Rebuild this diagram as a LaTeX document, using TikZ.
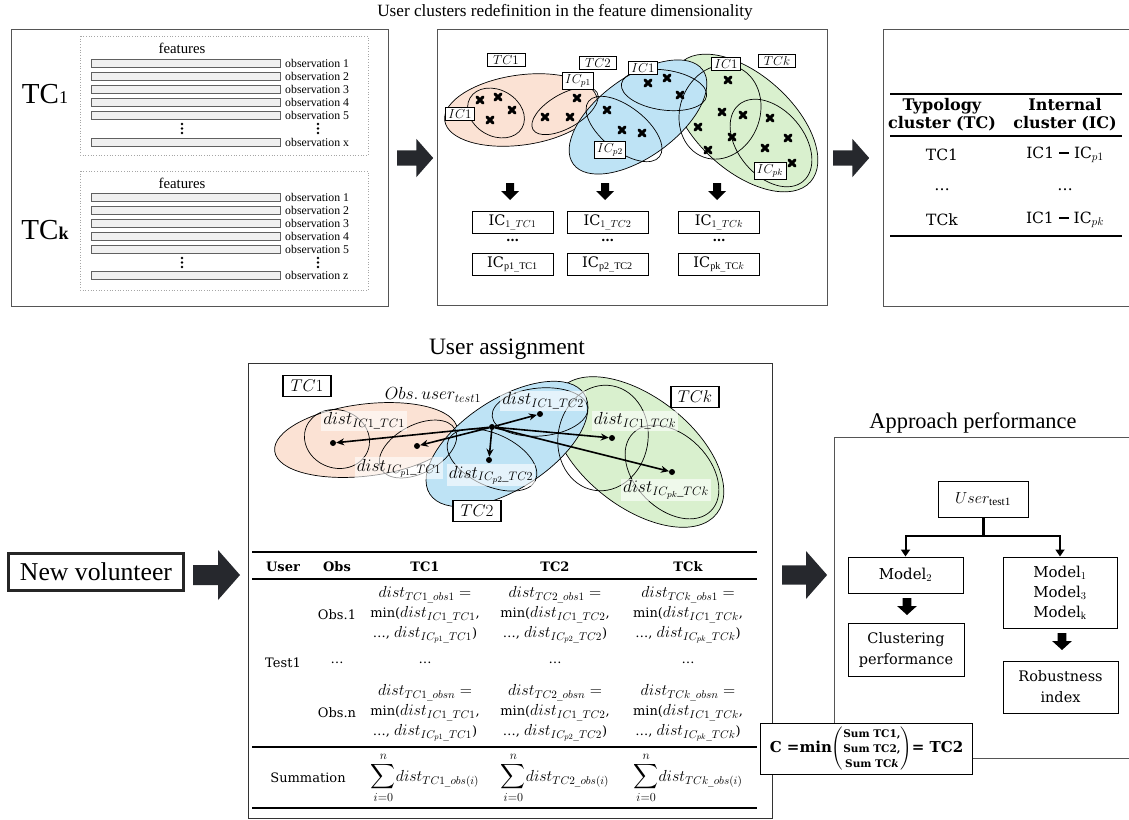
\RequirePackage{fix-cm}
\documentclass[tikz,border=0pt]{standalone}
\usepackage{amsmath}
\usepackage{exscale}
\usepackage{fontspec}
\setmainfont{Liberation Serif}
\newfontfamily\cam{DejaVu Serif}
\usetikzlibrary{arrows.meta}
\definecolor{orfill}{RGB}{251,226,212}
\definecolor{blfill}{RGB}{190,227,245}
\definecolor{grfill}{RGB}{217,240,206}
\definecolor{arrowdark}{RGB}{38,40,45}
\definecolor{panelgray}{RGB}{85,85,85}
\newcommand\fs[2]{\fontsize{#1}{#2}\selectfont}
\newcommand\myell[6]{\draw[#6, rotate around={#5:(#1,#2)}] (#1,#2) ellipse [x radius=#3pt, y radius=#4pt];}
\newcommand\dashbar{\raisebox{4pt}{\rule{10pt}{2pt}}}
\newcommand\M[1]{{\fs{16}{20}$#1$}}
\newcommand\cellTC[3]{\M{dist_{#1\_obs#2}=}\\min(\M{dist_{IC1\_#1}},\\\ldots, \M{dist_{IC_{#3}\_#1}})}
\newcommand\bigsum{{\fs{17.5}{20}$\displaystyle\sum_{i=0}^{n}$}}
\tikzset{
  panel/.style={draw=panelgray, line width=0.9pt},
  dotbox/.style={draw=gray!70, dotted, line width=0.7pt},
  bar/.style={draw=gray!75!black, fill=gray!12, line width=0.6pt},
  obs/.style={font=\fs{11.8}{11.8}, inner sep=0pt, anchor=west},
  lbl/.style={draw, line width=0.9pt, fill=white, inner xsep=3pt, inner ysep=2pt, font=\fs{13}{13}},
  lblb/.style={draw, line width=1.1pt, fill=white, inner xsep=3pt, inner ysep=2pt, minimum width=48pt, minimum height=21pt, font=\fs{17}{17}},
  icbox/.style={draw, line width=0.9pt, minimum width=81pt, minimum height=21pt, font=\cam\fs{14.5}{14.5}},
  dlbl/.style={fill=white, fill opacity=0.6, text opacity=1, inner xsep=2pt, inner ysep=2pt, font=\fs{17.5}{17.5}},
  hdr/.style={font=\cam\bfseries\fs{16}{18}, align=center},
  cell/.style={font=\cam\fs{15.5}{20}, align=center},
  tcell/.style={font=\cam\fs{13}{20}, align=center, inner sep=0pt},
  thdr/.style={font=\cam\bfseries\fs{13}{13}},
  rbox/.style={draw, line width=1pt, fill=white, font=\cam\fs{15}{20}, align=center},
  dot/.style={circle, fill=black, inner sep=0pt, minimum size=6pt},
  distarrow/.style={line width=1.6pt, -{Stealth[length=8pt,width=7pt]}},
  rule/.style={line width=1.2pt},
  barrow/.pic={\fill[arrowdark] (0,-10) -- (25,-10) -- (25,-25) -- (47,0) -- (25,25) -- (25,10) -- (0,10) -- cycle;},
  darrow/.pic={\fill[black] (-4,0) -- (4,0) -- (4,8) -- (9,8) -- (0,17) -- (-9,8) -- (-4,8) -- cycle;},
  xm/.pic={\draw[line width=3.1pt, line cap=round] (-3,-3) -- (3,3) (-3,3) -- (3,-3);},
}
\begin{document}
\begin{tikzpicture}[x=1pt,y=-1pt]
\useasboundingbox (0,0) rectangle (1129,819);
\fill[white] (0,0) rectangle (1129,819);

% ---------- titles
\node (title1) at (565,12) {\fs{17.2}{17.2}User clusters redefinition in the feature dimensionality};
\node (title2) at (507,349) {\fs{23.5}{23.5}User assignment};
\node (title3) at (973,423) {\fs{22.4}{22.4}Approach performance};

% ---------- panel 1
\draw[panel] (11,29) rectangle (388,306);
\draw[dotbox] (80,36) rectangle (368,155);
\draw[dotbox] (80,171) rectangle (368,290);
\node (feat1) at (182,48) {\fs{14.8}{14.8}features};
\node (feat2) at (182,183) {\fs{14.8}{14.8}features};
\foreach \y/\t [count=\i] in {63/1,76/2,89/3,102/4,115/5,142/x} {
  \draw[bar] (91,\y-4) rectangle (280,\y+4);
  \node[obs] (oa\i) at (285,\y) {observation \t};
}
\foreach \y/\t [count=\i] in {197/1,210/2,223/3,236/4,249/5,275/z} {
  \draw[bar] (91,\y-4) rectangle (280,\y+4);
  \node[obs] (ob\i) at (285,\y) {observation \t};
}
\foreach \x in {182,318} {
  \foreach \y in {124,128.5,133} { \fill (\x,\y) circle (1.3pt); }
  \foreach \y in {258,262.5,267} { \fill (\x,\y) circle (1.3pt); }
}
\node (tc1big) at (45,94) {\fs{29}{29}TC{\fs{18}{18}1}};
\node (tckbig) at (45,230) {\fs{29}{29}TC{\fs{18}{18}\bfseries k}};

\pic[scale=0.77] at (397,158) {barrow};

% ---------- panel 2
\draw[panel] (437,29) rectangle (827,305);
\myell{521}{110}{77}{35}{8}{fill=orfill, draw=black, line width=0.7pt}
\myell{745}{123}{88}{48}{-42}{fill=grfill, draw=black, line width=0.7pt}
\myell{638}{117}{80}{40}{36}{fill=blfill, draw=black, line width=0.7pt}
\myell{496}{113}{30}{23}{-30}{draw=black, line width=0.7pt}
\myell{565}{111}{37}{17}{30}{draw=black, line width=0.7pt}
\myell{664}{90}{43}{20}{-8}{draw=black, line width=0.7pt}
\myell{624}{129}{45}{22}{-38}{draw=black, line width=0.7pt}
\myell{720}{112}{40}{48}{-20}{draw=black, line width=0.7pt}
\myell{771}{143}{50}{33}{-50}{draw=black, line width=0.7pt}
\foreach \p in {(480,100),(498,97),(512,110),(490,120),(545,117),(570,117),(577,98),
  (648,83),(667,78),(680,95),(607,110),(622,130),(642,133),
  (728,80),(722,112),(698,127),(732,137),(708,150),(743,115),(770,118),(788,138),(765,148),(792,163)}
  { \pic at \p {xm}; }
\node[lbl, minimum width=38pt] (ltc1) at (506,60) {$TC1$};
\node[lbl] (lic1a) at (460,114) {$IC1$};
\node[lbl] (licp1) at (578,81) {$IC_{p1}$};
\node[lbl, minimum width=37pt] (ltc2) at (598,63) {$TC2$};
\node[lbl] (lic1b) at (643,68) {$IC1$};
\node[lbl] (licp2) at (610,150) {$IC_{p2}$};
\node[lbl] (lic1c) at (726,64) {$IC1$};
\node[lbl, minimum width=37pt] (ltck) at (777,61) {$TCk$};
\node[lbl] (licpk) at (770,171) {$IC_{pk}$};
\foreach \x in {510,605,717} { \pic at (\x,183) {darrow}; }
\node[icbox] (ia1) at (512.5,222.5) {IC$_{1\_TC1}$};
\node[icbox] (ib1) at (512.5,264) {IC$_{\mathrm{p1\_TC1}}$};
\node[icbox] (ia2) at (607.5,222.5) {IC$_{1\_TC2}$};
\node[icbox] (ib2) at (607.5,264) {IC$_{\mathrm{p2\_TC2}}$};
\node[icbox] (ia3) at (719,222.5) {IC$_{1\_TCk}$};
\node[icbox] (ib3) at (719,264) {IC$_{\mathrm{pk\_TC}k}$};
\foreach \x in {512.5,607.5,719} { \node[font=\cam\bfseries\fs{13}{13}] at (\x,240) {\ldots}; }

\pic[scale=0.77] at (833,158) {barrow};

% ---------- panel 3
\draw[panel] (1129,29) -- (883,29) -- (883,306) -- (1129,306);
\draw[rule] (890,94) -- (1122,94);
\draw[rule] (890,136) -- (1122,136);
\draw[rule] (890,236) -- (1122,236);
\node[hdr] (th1) at (942,115) {Typology\\cluster (TC)};
\node[hdr] (th2) at (1065,115) {Internal\\cluster (IC)};
\node[cell] (r1a) at (942,155) {TC1};
\node[cell] (r1b) at (1065,155) {IC1 \dashbar{} IC\M{_{p1}}};
\node[cell] (r2a) at (942,190) {\ldots};
\node[cell] (r2b) at (1065,190) {\ldots};
\node[cell] (r3a) at (942,220) {TCk};
\node[cell] (r3b) at (1065,220) {IC1 \dashbar{} IC\M{_{pk}}};

% ---------- new volunteer
\node[draw=black!85, line width=3pt, minimum width=175pt, minimum height=37pt, font=\fs{25.7}{25.7}] (nv) at (96,572) {New volunteer};
\pic at (193,575) {barrow};

% ---------- bottom main box
\draw[panel, draw=black!80] (248,363) rectangle (772,818);
\myell{366}{440}{92}{36}{7}{fill=orfill, draw=black, line width=0.7pt}
\myell{638}{452}{100}{55}{-38}{fill=grfill, draw=black, line width=0.7pt}
\myell{507}{444}{92}{45}{33}{fill=blfill, draw=black, line width=0.7pt}
\myell{337}{439}{33}{29}{-20}{draw=black, line width=0.7pt}
\myell{418}{449}{42}{24}{28}{draw=black, line width=0.7pt}
\myell{540}{412}{48}{24}{5}{draw=black, line width=0.7pt}
\myell{492}{460}{48}{26}{-25}{draw=black, line width=0.7pt}
\myell{603}{438}{45}{53}{-10}{draw=black, line width=0.7pt}
\myell{672}{472}{55}{37}{-45}{draw=black, line width=0.7pt}

\node[dlbl] (dl1) at (364,421) {$dist_{IC1\_TC1}$};
\node[dlbl] (dl2) at (399,468) {$dist_{IC_{p1}\_TC1}$};
\node[dlbl] (dl3) at (543,401) {$dist_{IC1\_TC2}$};
\node[dlbl] (dl4) at (491,475) {$dist_{IC_{p2}\_TC2}$};
\node[dlbl] (dl5) at (635,421) {$dist_{IC1\_TCk}$};
\node[dlbl] (dl6) at (666,490) {$dist_{IC_{pk}\_TCk}$};
\node[font=\fs{17.5}{17.5}] (obsu) at (433,395) {$Obs.\,user_{test1}$};

\node[dot] (obs) at (492,427) {};
\node[dot] (e1) at (333,443) {};
\node[dot] (e2) at (417,446) {};
\node[dot] (e3) at (540,414) {};
\node[dot] (e4) at (489,460) {};
\node[dot] (e5) at (612,438) {};
\node[dot] (e6) at (672,472) {};
\foreach \e in {e1,e2,e3,e4,e5,e6} { \draw[distarrow] (obs) -- (\e); }

\node[lblb] (btc1) at (307,386) {$TC1$};
\node[lblb] (btck) at (695,397) {$TCk$};
\node[lblb] (btc2) at (477,511) {$TC2$};

% table
\draw[rule] (252,552) -- (757,552);
\draw[rule] (252,579) -- (757,579);
\draw[rule] (252,747) -- (757,747);
\draw[rule] (252,808) -- (757,808);
\node[thdr] (hU) at (283,567) {User};
\node[thdr] (hO) at (337,567) {Obs};
\node[thdr] (h1) at (425,567) {TC1};
\node[thdr] (h2) at (555,567) {TC2};
\node[thdr] (hk) at (688,567) {TCk};
\node[tcell] (tt) at (283,663) {Test1};
\node[tcell] (o1) at (337,615) {Obs.1};
\node[tcell] (od) at (337,663) {\ldots};
\node[tcell] (on) at (337,713) {Obs.n};
\node[tcell] (c11) at (425,615) {\cellTC{TC1}{1}{p1}};
\node[tcell] (c12) at (555,615) {\cellTC{TC2}{1}{p2}};
\node[tcell] (c1k) at (688,615) {\cellTC{TCk}{1}{pk}};
\node[tcell] (c21) at (425,663) {\ldots};
\node[tcell] (c22) at (555,663) {\ldots};
\node[tcell] (c2k) at (688,663) {\ldots};
\node[tcell] (c31) at (425,713) {\cellTC{TC1}{n}{p1}};
\node[tcell] (c32) at (555,713) {\cellTC{TC2}{n}{p2}};
\node[tcell] (c3k) at (688,713) {\cellTC{TCk}{n}{pk}};
\node[tcell] (sl) at (308,778) {Summation};
\node[tcell] (s1) at (425,778) {\bigsum\M{dist_{TC1\_obs(i)}}};
\node[tcell] (s2) at (555,778) {\bigsum\M{dist_{TC2\_obs(i)}}};
\node[tcell] (s3) at (688,778) {\bigsum\M{dist_{TCk\_obs(i)}}};

\pic[scale=0.96] at (782,575) {barrow};

% ---------- right panel
\draw[panel] (1129,437) -- (834,437) -- (834,758) -- (1129,758);
\node[rbox, minimum width=90pt, minimum height=36pt] (user) at (983,499) {\M{User_{\mathrm{test1}}}};
\node[rbox, minimum width=115pt, minimum height=36pt] (m2) at (905.5,575) {Model$_2$};
\node[rbox, minimum width=114pt, minimum height=71pt] (mo) at (1060,592.5) {Model$_1$\\Model$_3$\\Model$_\mathrm{k}$};
\node[rbox, minimum width=116pt, minimum height=53pt, font=\cam\fs{14.5}{21}] (cp) at (906,649.5) {Clustering\\performance};
\node[rbox, minimum width=115pt, minimum height=52pt, font=\cam\fs{14.5}{21}] (ri) at (1060.5,687) {Robustness\\index};
\draw[line width=3pt] (user.south) -- (983,536) coordinate (jn);
\draw[line width=2pt, -{Triangle[width=9pt,length=7pt]}] (jn) -| (m2.north);
\draw[line width=2pt, -{Triangle[width=9pt,length=7pt]}] (jn) -| (mo.north);
\pic[xscale=1.1] at (907,598) {darrow};
\pic[xscale=1.1] at (1062,633) {darrow};

% C box
\node[draw, line width=1pt, fill=white, minimum width=212pt, minimum height=46pt, font=\cam\bfseries\fs{15}{15}] (cbox) at (866.5,749)
  {C =min$\left(\begin{tabular}{@{}c@{}}\fs{10.5}{13}\cam\bfseries Sum TC1,\\\fs{10.5}{13}\cam\bfseries Sum TC2,\\\fs{10.5}{13}\cam\bfseries Sum TC\textit{k}\end{tabular}\right)$= TC2};
\end{tikzpicture}
\end{document}
